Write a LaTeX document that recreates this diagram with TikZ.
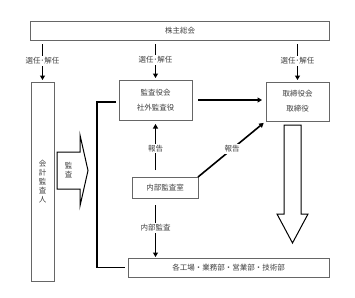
\documentclass[tikz,border=0pt]{standalone}
\usepackage{fontspec}
\setmainfont{Noto Sans CJK JP}
\usetikzlibrary{arrows.meta, calc}
\tikzset{
  box/.style    = {draw=black!60, line width=0.7pt, inner sep=0pt, outer sep=0pt,
                   align=center, font=\fontsize{7.5}{9}\selectfont, text=black!75},
  twoline/.style = {box, font=\fontsize{7.5}{15}\selectfont},
  link/.style   = {line width=1.6pt, -{Triangle[length=4.5pt, width=5pt]}},
  wire/.style   = {line width=1.6pt},
  lbl/.style    = {fill=white, inner sep=1.5pt, align=center,
                   font=\fontsize{7.5}{9}\selectfont, text=black!75},
  hollow/.style = {draw=black, line width=1pt, fill=white, line join=miter},
}

\begin{document}
\begin{tikzpicture}[x=1pt, y=-1pt]
  \useasboundingbox[fill=white] (0,0) rectangle (355,297);

  \node[box, minimum width=299pt, minimum height=19pt] at (180, 30.5)   (kabu)        {株主総会};
  \node[box, minimum width=23pt,  minimum height=199pt] at (42.5, 181.5) (kaikei)     {会\\計\\監\\査\\人};
  \node[twoline, minimum width=73pt, minimum height=40pt] at (155.5, 100) (kansa)    {監査役会\\社外監査役};
  \node[twoline, minimum width=63pt, minimum height=39pt] at (297.5, 101.5) (torishimari) {取締役会\\取締役};
  \node[box, minimum width=66pt,  minimum height=21pt] at (165, 187.5)  (naibu)      {内部監査室};
  \node[box, minimum width=201pt, minimum height=19pt] at (228.5, 267.5) (kojo)      {各工場・業務部・営業部・技術部};

  % hollow arrows
  \draw[hollow] (57,152) -- (80,152) -- (80,135) -- (88,170.5) -- (80,206) -- (80,189) -- (57,189) -- cycle;
  \node[lbl, fill=none] at (68.5, 170.5) (kansalbl) {監\\査};
  \draw[hollow] (284,125) -- (301,125) -- (301,214) -- (308,214) -- (292.5,243) -- (277,214) -- (284,214) -- cycle;

  \draw[link, shorten <=4pt, shorten >=2pt] (kabu.south -| kaikei.north) -- node[lbl]{選任･解任} (kaikei.north);
  \draw[link, shorten <=4pt, shorten >=2pt] (kabu.south -| kansa.north) -- node[lbl]{選任･解任} (kansa.north);
  \draw[link, shorten <=4pt, shorten >=2pt] (kabu.south -| torishimari.north) -- node[lbl]{選任･解任} (torishimari.north);

  \draw[link, shorten <=6pt, shorten >=4pt] (kansa.east) -- (kansa.east -| torishimari.west);
  \draw[link, shorten <=7pt, shorten >=4pt] (kansa.south |- naibu.north) -- node[lbl]{報告} (kansa.south);
  \draw[link, shorten >=3pt] (naibu.north east) -- node[lbl]{報告} (torishimari.south west);
  \draw[link, shorten <=7pt, shorten >=1pt] (kansa.south |- naibu.south) -- node[lbl]{内部監査} (kansa.south |- kojo.north);

  \draw[wire] ([xshift=-3pt, yshift=-2pt]kansa.west) -- ++(-19,0) |- ([xshift=-3pt]kojo.west);
\end{tikzpicture}
\end{document}
